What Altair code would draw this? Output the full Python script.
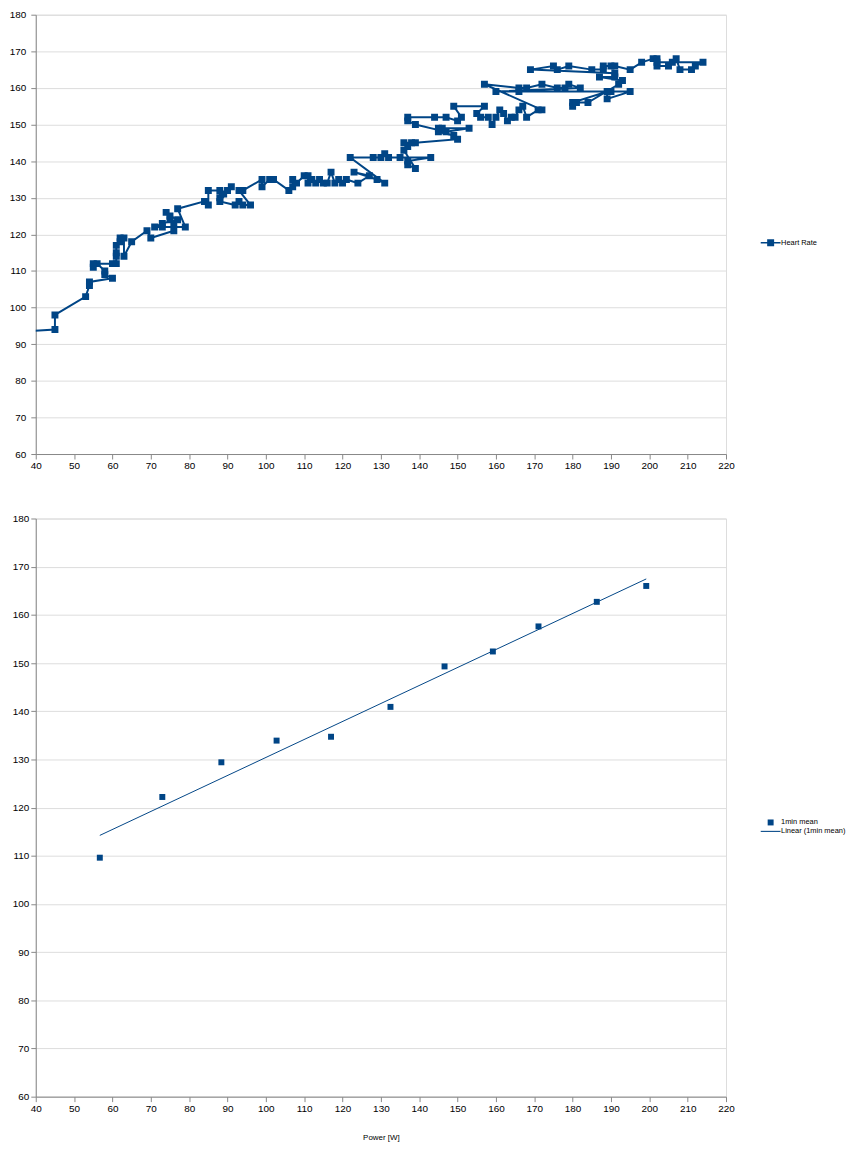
import altair as alt
import pandas as pd

# ---- Top chart: heart rate vs power (time ordered) ----
hr_power = [36, 45, 45, 53, 54, 54, 60, 58, 58, 56, 55, 55, 60, 61, 61, 61, 61, 62, 62, 63, 63, 65,
            69, 70, 76, 76, 75, 74, 75, 77, 73, 71, 73, 79, 77, 84, 85, 85, 88, 88, 89, 90, 91, 88,
            92, 93, 94, 96, 93, 94, 99, 99, 101, 102, 106, 107, 107, 108, 110, 111, 111, 112, 113,
            114, 115, 116, 117, 118, 119, 120, 121, 124, 127, 123, 129, 131, 122, 128, 130, 131, 132,
            135, 143, 137, 137, 139, 136, 137, 136, 138, 139, 150, 149, 145, 146, 145, 153, 147, 139,
            137, 137, 144, 147, 150, 151, 149, 157, 155, 156, 158, 159, 160, 161, 162, 163, 164, 165,
            166, 167, 168, 171, 172, 157, 166, 168, 172, 176, 178, 179, 182, 160, 166, 190, 195, 189,
            189, 180, 180, 181, 184, 192, 193, 187, 191, 191, 169, 175, 176, 179, 185, 188, 188, 190,
            191, 195, 198, 201, 202, 202, 205, 206, 207, 208, 211, 212, 214, 202]
hr_rate = [93.4, 94, 98, 103, 106, 107, 108, 109, 110, 112, 111, 112, 112, 112, 114, 115, 117, 118, 119,
           119, 114, 118, 121, 119, 121, 123, 124, 126, 125, 124, 123, 122, 122, 122, 127, 129, 128,
           132, 132, 130, 131, 132, 133, 129, 128, 129, 128, 128, 132, 132, 135, 133, 135, 135, 132,
           133, 135, 134, 136, 136, 134, 135, 134, 135, 134, 134, 137, 134, 135, 134, 135, 134, 136,
           137, 135, 134, 141, 141, 141, 142, 141, 141, 141, 140, 139, 138, 143, 144, 145, 145, 145,
           146, 147, 148, 149, 149, 149, 148, 150, 151, 152, 152, 152, 151, 152, 155, 155, 153, 152,
           152, 150, 152, 154, 153, 151, 152, 152, 154, 155, 152, 154, 154, 161, 160, 160, 161, 160,
           160, 161, 160, 159, 159, 159, 159, 157, 159, 156, 155, 156, 156, 161, 162, 163, 163, 164,
           165, 166, 165, 166, 165, 165, 166, 166, 166, 165, 167, 168, 168, 166, 166, 167, 168, 165,
           165, 166, 167, 167]

# ---- Bottom chart: 1 minute means ----
mean_power = [56.7, 73.0, 88.4, 102.8, 117.0, 132.5, 146.6, 159.2, 171.1, 186.3, 199.2]
mean_hr = [109.6, 122.2, 129.4, 133.9, 134.7, 140.9, 149.3, 152.4, 157.6, 162.7, 166.0]

x_ticks = list(range(40, 221, 10))
y_ticks = list(range(60, 181, 10))

FONT = "Liberation Sans, Arial, sans-serif"
BLUE = "#004586"
GRID = "#b3b3b3"
S_TOP = "Heart Rate"
S_MEAN = "1min mean"
S_LIN = "Linear (1min mean)"

top_df = pd.DataFrame({"power": hr_power, "hr": hr_rate,
                       "series": [S_TOP] * len(hr_power),
                       "order": list(range(len(hr_power)))})
mean_df = pd.DataFrame({"power": mean_power, "hr": mean_hr,
                        "series": [S_MEAN] * len(mean_power)})


def x_enc(title=None):
    kw = dict(values=x_ticks, grid=False, labelFlush=False)
    if title:
        kw.update(title=title, titleFont=FONT, titleFontSize=8, titleFontWeight="normal",
                  titleColor="#000", titlePadding=20)
    else:
        kw.update(title=None)
    return alt.X("power:Q", scale=alt.Scale(domain=[40, 220], nice=False, zero=False),
                 axis=alt.Axis(**kw))


def y_enc(pad, extent):
    return alt.Y("hr:Q", scale=alt.Scale(domain=[60, 180], nice=False, zero=False),
                 axis=alt.Axis(values=y_ticks, grid=True, title=None, labelFlush=False,
                               labelPadding=pad, minExtent=extent, maxExtent=extent))


# legend symbols (symbolSize 81 -> 4.5 px per path unit)
TOP_SYMBOL = "M-2.22,-0.17H2.22V0.17H-2.22ZM-0.78,-0.78H0.78V0.78H-0.78Z"
SQ = "M-0.667,-0.667H0.667V0.667H-0.667Z"
LINE = "M-2.22,-0.12H2.22V0.12H-2.22Z"

legend_common = dict(title=None, orient="none", symbolSize=81, symbolStrokeWidth=0,
                     symbolFillColor=BLUE, labelOffset=6, rowPadding=1,
                     labelFont=FONT, labelFontSize=7.5, labelColor="#000")

top_line = alt.Chart(top_df).mark_line(color=BLUE, strokeWidth=2, clip=True).encode(
    x=x_enc(), y=y_enc(5, 19), order="order:Q")
top_pts = alt.Chart(top_df).mark_square(filled=True, size=49, opacity=1, clip=True).encode(
    x=x_enc(), y=y_enc(5, 19),
    color=alt.Color("series:N", scale=alt.Scale(domain=[S_TOP], range=[BLUE]),
                    legend=alt.Legend(legendX=736.5, legendY=225.5, symbolType=TOP_SYMBOL,
                                      **legend_common)))
top = alt.layer(top_line, top_pts).properties(width=696, height=443)

bot_pts = alt.Chart(mean_df).mark_point(filled=True, color=BLUE, size=81, opacity=1).encode(
    x=x_enc("Power [W]"), y=y_enc(2, 19),
    shape=alt.Shape("series:N", scale=alt.Scale(domain=[S_MEAN, S_LIN], range=[SQ, LINE]),
                    legend=alt.Legend(legendX=736.5, legendY=302, **legend_common)))
bot_line = alt.Chart(mean_df).transform_regression("power", "hr").mark_line(
    color=BLUE, strokeWidth=1).encode(x=x_enc("Power [W]"), y=y_enc(2, 19))
bottom = alt.layer(bot_pts, bot_line).properties(width=696, height=583)

chart = alt.vconcat(top, bottom, spacing=41).resolve_scale(
    x="independent", y="independent", color="independent", shape="independent"
).resolve_legend(color="independent", shape="independent").properties(
    padding={"left": 0, "top": -4, "right": 0, "bottom": 0}
).configure_axis(
    labelFont=FONT, labelFontSize=8, labelColor="#000", domainColor=GRID, tickColor=GRID,
    gridColor=GRID, tickSize=3, domainWidth=1, gridWidth=1
).configure_axisX(labelPadding=2).configure_legend(labelFont=FONT).configure_view(
    stroke=GRID).configure(background="white")

chart.save("out.html", embed_options={"renderer": "svg", "actions": False})
